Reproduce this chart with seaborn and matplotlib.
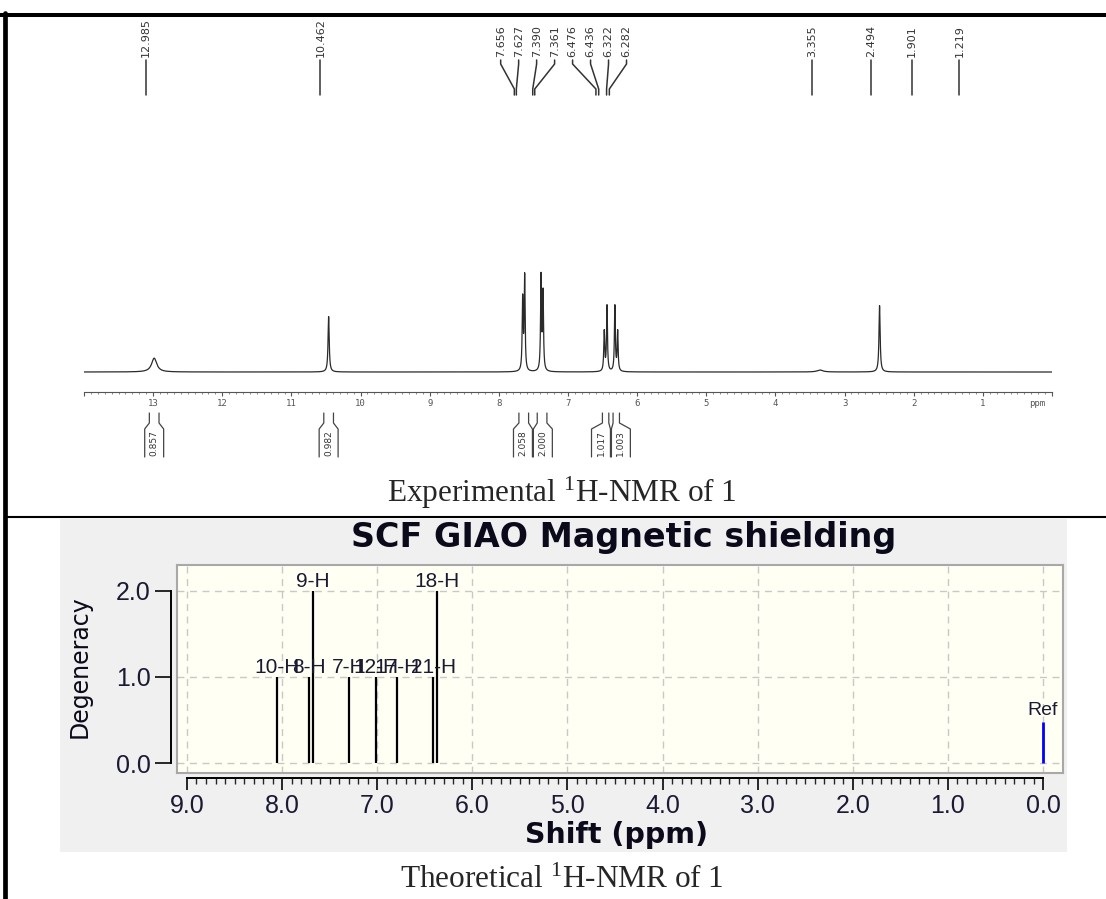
import numpy as np
import pandas as pd
import matplotlib
matplotlib.use('Agg')
import matplotlib.pyplot as plt
import matplotlib.transforms as mtransforms
from matplotlib.lines import Line2D
from matplotlib.patches import Rectangle
from matplotlib.ticker import MultipleLocator, FixedLocator, FuncFormatter
import seaborn as sns

# ---- experimental 1H-NMR (peak shift ppm, line height, half width) ----
exp_shift = [12.985, 10.462, 7.656, 7.627, 7.390, 7.361, 6.476, 6.436, 6.322, 6.282, 3.355, 2.494]
exp_height = [0.14, 0.56, 0.72, 0.95, 0.95, 0.78, 0.40, 0.66, 0.66, 0.40, 0.02, 0.67]
exp_hwhm = [0.045, 0.010, 0.008, 0.008, 0.008, 0.008, 0.008, 0.008, 0.008, 0.008, 0.05, 0.010]

# peak picking labels
single_peaks = [12.985, 10.462, 3.355, 2.494, 1.901, 1.219]
group_peaks = [7.656, 7.627, 7.390, 7.361, 6.476, 6.436, 6.322, 6.282]

# integrals (position ppm, value, pair id)
integ_pos = [12.985, 10.462, 7.640, 7.375, 6.456, 6.302]
integ_val = ['0.857', '0.982', '2.058', '2.000', '1.017', '1.003']
integ_pair = [0, 1, 2, 2, 3, 3]

# ---- theoretical (GIAO) ----
theo_shift = [8.05, 7.72, 7.68, 7.30, 7.01, 6.79, 6.41, 6.37]
theo_deg = [1, 1, 2, 1, 1, 1, 1, 2]
theo_label = ['10-H', '8-H', '9-H', '7-H', '12-H', '17-H', '21-H', '18-H']
ref_shift = 0.0
ref_height = 0.48

W, H = 1106, 899


def fx(px):
    return px / W


def fy(py):
    return 1 - py / H


sns.set_style('white')
plt.rcParams['font.family'] = ['DejaVu Sans']
plt.rcParams['mathtext.fontset'] = 'custom'

fig = plt.figure(figsize=(W / 100, H / 100), dpi=100)
fig.patch.set_facecolor('white')

# ================= top: experimental spectrum =================
ax1 = fig.add_axes([fx(84), fy(392), fx(1052) - fx(84), (392 - 262) / H])
x = np.linspace(14, 0, 28001)
y = np.zeros_like(x)
for s, h, w in zip(exp_shift, exp_height, exp_hwhm):
    y += h / (1 + ((x - s) / w) ** 2)
spec = pd.DataFrame({'ppm': x, 'intensity': y})
sns.lineplot(data=spec, x='ppm', y='intensity', ax=ax1, color='#2a2a2a',
             lw=0.9, estimator=None, sort=False)
ax1.set_xlim(14, 0)
ax1.set_ylim(-0.202, 1.111)
ax1.set_xlabel('')
ax1.set_ylabel('')
ax1.patch.set_alpha(0)
for sp in ['top', 'left', 'right']:
    ax1.spines[sp].set_visible(False)
ax1.spines['bottom'].set_color('#555555')
ax1.spines['bottom'].set_linewidth(0.8)
ax1.set_yticks([])
ax1.xaxis.set_major_locator(MultipleLocator(1))
ax1.xaxis.set_minor_locator(MultipleLocator(0.1))
ax1.xaxis.set_major_formatter(FuncFormatter(
    lambda v, p: '' if (v < 0.5 or v > 13.5) else '%d' % round(v)))
ax1.tick_params(axis='x', which='major', direction='out', length=3, width=0.8,
                color='#555555', labelsize=6.5, labelcolor='#555555', pad=2,
                bottom=True)
ax1.tick_params(axis='x', which='minor', direction='out', length=1.3, width=0.6,
                color='#777777', bottom=True)
for lab in ax1.get_xticklabels():
    lab.set_family('DejaVu Sans Mono')

blend = mtransforms.blended_transform_factory(ax1.transData, fig.transFigure)
ax1.text(0.22, fy(404), 'ppm', transform=blend, ha='center', va='center',
         fontsize=6.5, color='#555555', family='DejaVu Sans Mono')

off = 0.12
lab_kw = dict(transform=blend, rotation=90, ha='center', va='bottom',
              fontsize=8, color='#333333')
for s in single_peaks:
    xs = s + off
    fig.add_artist(Line2D([xs, xs], [fy(60), fy(95)], transform=blend,
                          color='#333333', lw=1.1))
    ax1.text(xs, fy(57), '%.3f' % s, **lab_kw)

gcen = np.mean(group_peaks) + off
gstep = 0.26
for i, s in enumerate(group_peaks):
    lx = gcen + (3.5 - i) * gstep
    xs = s + off
    fig.add_artist(Line2D([lx, lx, xs, xs], [fy(60), fy(64), fy(89), fy(95)],
                          transform=blend, color='#333333', lw=1.1))
    ax1.text(lx, fy(57), '%.3f' % s, **lab_kw)

# integral brackets
bh = 0.137
for pid in sorted(set(integ_pair)):
    idx = [k for k, p in enumerate(integ_pair) if p == pid]
    pos = [integ_pos[k] for k in idx]
    if len(idx) == 1:
        centers = pos
        nh = 0.07
    else:
        m = np.mean(pos)
        centers = [m + 0.144, m - 0.144]
        nh = min(0.07, 0.3 * abs(pos[0] - pos[1]))
    for k, xn, xb in zip(idx, pos, centers):
        for sgn in (-1, 1):
            fig.add_artist(Line2D([xn + sgn * nh, xn + sgn * nh, xb + sgn * bh, xb + sgn * bh],
                                  [fy(413), fy(423), fy(429), fy(457)],
                                  transform=blend, color='#444444', lw=0.9))
        ax1.text(xb, fy(443), integ_val[k], transform=blend, rotation=90,
                 ha='center', va='center', fontsize=6.5, color='#333333')

fig.text(fx(562), fy(493), r'Experimental $\mathregular{^{1}}$H-NMR of 1',
         ha='center', va='center', fontsize=22.5, family='Liberation Serif')

# ================= bottom: theoretical =================
fig.add_artist(Rectangle((fx(60), fy(852)), fx(1067) - fx(60), (852 - 519) / H,
                         transform=fig.transFigure, facecolor='#f0f0f0',
                         edgecolor='none', zorder=-1))

xl = (9.105, -0.21)
yl = (-0.116, 2.302)
pos_b = [fx(177), fy(773), fx(1063) - fx(177), (773 - 565) / H]
ax2 = fig.add_axes(pos_b)
ax2.set_facecolor('#fffff4')
ax2.set_xlim(*xl)
ax2.set_ylim(*yl)
ax2.set_xticks(np.arange(0, 10, 1))
ax2.set_yticks([0, 1, 2])
ax2.grid(True, color='#c8c8c8', ls=(0, (5, 4)), lw=1.0)
ax2.tick_params(length=0, labelbottom=False, labelleft=False)
for sp in ax2.spines.values():
    sp.set_color('#a8a8a8')
    sp.set_linewidth(1.5)

ax2.vlines(theo_shift, 0, theo_deg, color='black', lw=1.6, zorder=3)
for s, d, lab in zip(theo_shift, theo_deg, theo_label):
    ax2.text(s, d, lab, ha='center', va='bottom', fontsize=15,
             family='Liberation Sans', color='#1a1a33', zorder=4)
ax2.vlines([ref_shift], 0, ref_height, color='#0000ff', lw=2, zorder=3)
ax2.text(ref_shift, ref_height + 0.03, 'Ref', ha='center', va='bottom',
         fontsize=14, family='Liberation Sans', color='#1a1a33', zorder=4)

ax3 = fig.add_axes(pos_b)
ax3.patch.set_alpha(0)
ax3.set_xlim(*xl)
ax3.set_ylim(*yl)
ax3.spines['top'].set_visible(False)
ax3.spines['right'].set_visible(False)
ax3.spines['left'].set_position(('outward', 4.3))
ax3.spines['bottom'].set_position(('outward', 3.6))
ax3.spines['left'].set_bounds(0, 2)
ax3.spines['bottom'].set_bounds(0, 9)
for sp in ['left', 'bottom']:
    ax3.spines[sp].set_color('black')
    ax3.spines[sp].set_linewidth(1.4)
ax3.set_yticks([0, 1, 2])
ax3.set_yticklabels(['%.1f' % v for v in [0, 1, 2]])
major_x = np.arange(0, 10, 1)
minor_x = [round(v, 1) for v in np.arange(0, 9.01, 0.1) if abs(v - round(v)) > 0.01]
ax3.xaxis.set_major_locator(FixedLocator(major_x))
ax3.xaxis.set_minor_locator(FixedLocator(minor_x))
ax3.xaxis.set_major_formatter(FuncFormatter(lambda v, p: '%.1f' % v))
ax3.tick_params(axis='y', direction='out', length=11.5, width=1.4, pad=3,
                labelsize=18, labelcolor='#1a1a33', left=True)
ax3.tick_params(axis='x', which='major', direction='out', length=8.6, width=1.4,
                pad=3, labelsize=18, labelcolor='#1a1a33', bottom=True)
ax3.tick_params(axis='x', which='minor', direction='out', length=4.6, width=1.0,
                bottom=True)
for lab in ax3.get_xticklabels() + ax3.get_yticklabels():
    lab.set_family('Liberation Sans')

fig.text(fx(624), fy(537), 'SCF GIAO Magnetic shielding', ha='center', va='center',
         fontsize=24, weight='bold', family='DejaVu Sans', color='#0a0a1a')
fig.text(fx(617), fy(835), 'Shift (ppm)', ha='center', va='center',
         fontsize=20.5, weight='bold', family='DejaVu Sans', color='#0a0a1a')
fig.text(fx(80), fy(667), 'Degeneracy', ha='center', va='center', rotation=90,
         fontsize=17, family='DejaVu Sans', color='#0a0a1a')

fig.text(fx(562), fy(880), r'Theoretical $\mathregular{^{1}}$H-NMR of 1',
         ha='center', va='center', fontsize=22.5, family='Liberation Serif')

# ---- page borders ----
fig.add_artist(Line2D([0, 1], [fy(15), fy(15)], transform=fig.transFigure,
                      color='black', lw=2.9))
fig.add_artist(Line2D([fx(5), fx(5)], [fy(13), 0], transform=fig.transFigure,
                      color='black', lw=3.4))
fig.add_artist(Line2D([fx(5), 1], [fy(517), fy(517)], transform=fig.transFigure,
                      color='black', lw=1.5))

fig.savefig('out.png', dpi=100)
